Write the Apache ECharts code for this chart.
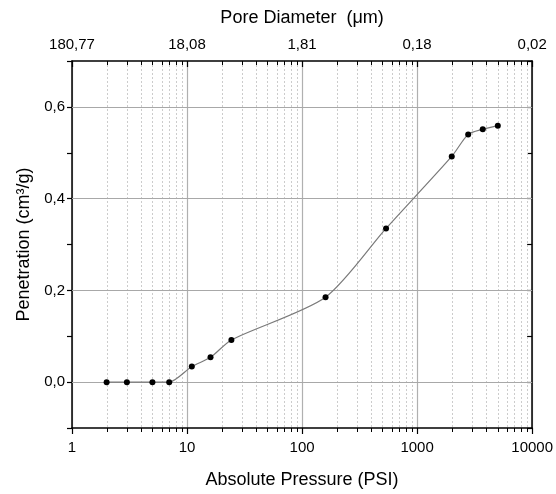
<!DOCTYPE html>
<html><head><meta charset="utf-8">
<script src="https://cdn.jsdelivr.net/npm/echarts@6/dist/echarts.min.js"></script>
<style>html,body{margin:0;padding:0;background:#fff}#c{width:556px;height:494px}</style>
</head><body><div id="c"></div>
<script>
const pressure = [2, 3, 5, 7, 11, 16, 24.3, 160, 537, 2000, 2780, 3720, 5030];
const penetration = [0, 0, 0, 0, 0.034, 0.054, 0.092, 0.185, 0.335, 0.492, 0.540, 0.551, 0.559];
const bottomTicks = [1, 10, 100, 1000, 10000];
const poreDiameterLabels = ['180,77', '18,08', '1,81', '0,18', '0,02'];
const minorTickValues = [2, 3, 4, 5, 6, 7, 8, 9,
  20, 30, 40, 50, 60, 70, 80, 90,
  200, 300, 400, 500, 600, 700, 800, 900,
  2000, 3000, 4000, 5000, 6000, 7000, 8000, 9000];
const yGridValues = [0, 0.2, 0.4, 0.6];

const FONT = "'Liberation Sans', Arial, sans-serif";
const chart = echarts.init(document.getElementById('c'), null, {renderer: 'canvas'});
const axisLine = {show: true, onZero: false, lineStyle: {color: '#000', width: 1.5}};

const option = {
  backgroundColor: '#fff',
  animation: false,
  grid: {left: 72, right: 22, top: 61, bottom: 62, containLabel: false},
  xAxis: [
    {
      type: 'log', logBase: 10, min: 1, max: 10000, position: 'bottom',
      name: 'Absolute Pressure (PSI)', nameLocation: 'middle', nameGap: 43,
      nameTextStyle: {fontFamily: FONT, fontSize: 18, color: '#000'},
      axisLine: axisLine,
      axisTick: {show: true, inside: false, length: 6, lineStyle: {color: '#000', width: 1.2}},
      axisLabel: {fontFamily: FONT, fontSize: 15, color: '#000', margin: 12, formatter: v => String(v)},
      splitLine: {show: true, lineStyle: {color: '#b0b0b0', width: 1.2}}
    },
    {
      type: 'log', logBase: 10, min: 1, max: 10000, position: 'top',
      name: 'Pore Diameter  (\u03bcm)', nameLocation: 'middle', nameGap: 34,
      nameTextStyle: {fontFamily: FONT, fontSize: 18, color: '#000'},
      axisLine: axisLine,
      axisTick: {show: true, inside: true, length: 6, lineStyle: {color: '#000', width: 1.2}},
      axisLabel: {fontFamily: FONT, fontSize: 15, color: '#000', margin: 9,
        formatter: v => {
          const i = bottomTicks.indexOf(Math.round(v));
          return i >= 0 ? poreDiameterLabels[i] : '';
        }},
      splitLine: {show: false}
    }
  ],
  yAxis: [
    {
      type: 'value', min: -0.1, max: 0.7, interval: 0.1, position: 'left',
      name: 'Penetration (cm\u00b3/g)', nameLocation: 'middle', nameGap: 39,
      nameTextStyle: {fontFamily: FONT, fontSize: 18, color: '#000'},
      axisLine: axisLine,
      axisTick: {show: true, inside: false, length: 5, lineStyle: {color: '#000', width: 1.2}},
      axisLabel: {fontFamily: FONT, fontSize: 15, color: '#000', margin: 7,
        formatter: v => (Math.round(v * 10) % 2 === 0 ? v.toFixed(1).replace('.', ',') : '')},
      splitLine: {show: false}
    },
    {
      type: 'value', min: -0.1, max: 0.7, interval: 0.1, position: 'right',
      axisLine: axisLine,
      axisTick: {show: true, inside: true, length: 5, lineStyle: {color: '#000', width: 1.2}},
      axisLabel: {show: false},
      splitLine: {show: false}
    }
  ],
  series: [
    {
      type: 'custom',
      xAxisIndex: 0, yAxisIndex: 0,
      clip: false, silent: true, z: 1,
      data: minorTickValues.map(v => [v, 0]),
      encode: {x: 0, y: 1},
      renderItem: function (params, api) {
        const x = Math.round(api.coord([api.value(0), 0])[0]) + 0.5;
        const cs = params.coordSys;
        const top = cs.y, bottom = cs.y + cs.height;
        return {
          type: 'group',
          children: [
            {type: 'line', shape: {x1: x, y1: top, x2: x, y2: bottom},
              style: {stroke: '#cccccc', lineWidth: 1, lineDash: [2, 2]}},
            {type: 'line', shape: {x1: x, y1: bottom, x2: x, y2: bottom + 4},
              style: {stroke: '#000', lineWidth: 1}},
            {type: 'line', shape: {x1: x, y1: top, x2: x, y2: top + 4},
              style: {stroke: '#000', lineWidth: 1}}
          ]
        };
      }
    },
    {
      type: 'line',
      xAxisIndex: 0, yAxisIndex: 0,
      data: pressure.map((p, i) => [p, penetration[i]]),
      smooth: 0.25,
      symbol: 'circle', symbolSize: 6,
      itemStyle: {color: '#000'},
      lineStyle: {color: '#7a7a7a', width: 1.2},
      z: 5,
      markLine: {
        silent: true, symbol: 'none', label: {show: false},
        lineStyle: {color: '#a8a8a8', width: 1.2, type: 'solid'},
        data: yGridValues.map(v => ({yAxis: v}))
      }
    }
  ]
};
chart.setOption(option);
</script></body></html>
